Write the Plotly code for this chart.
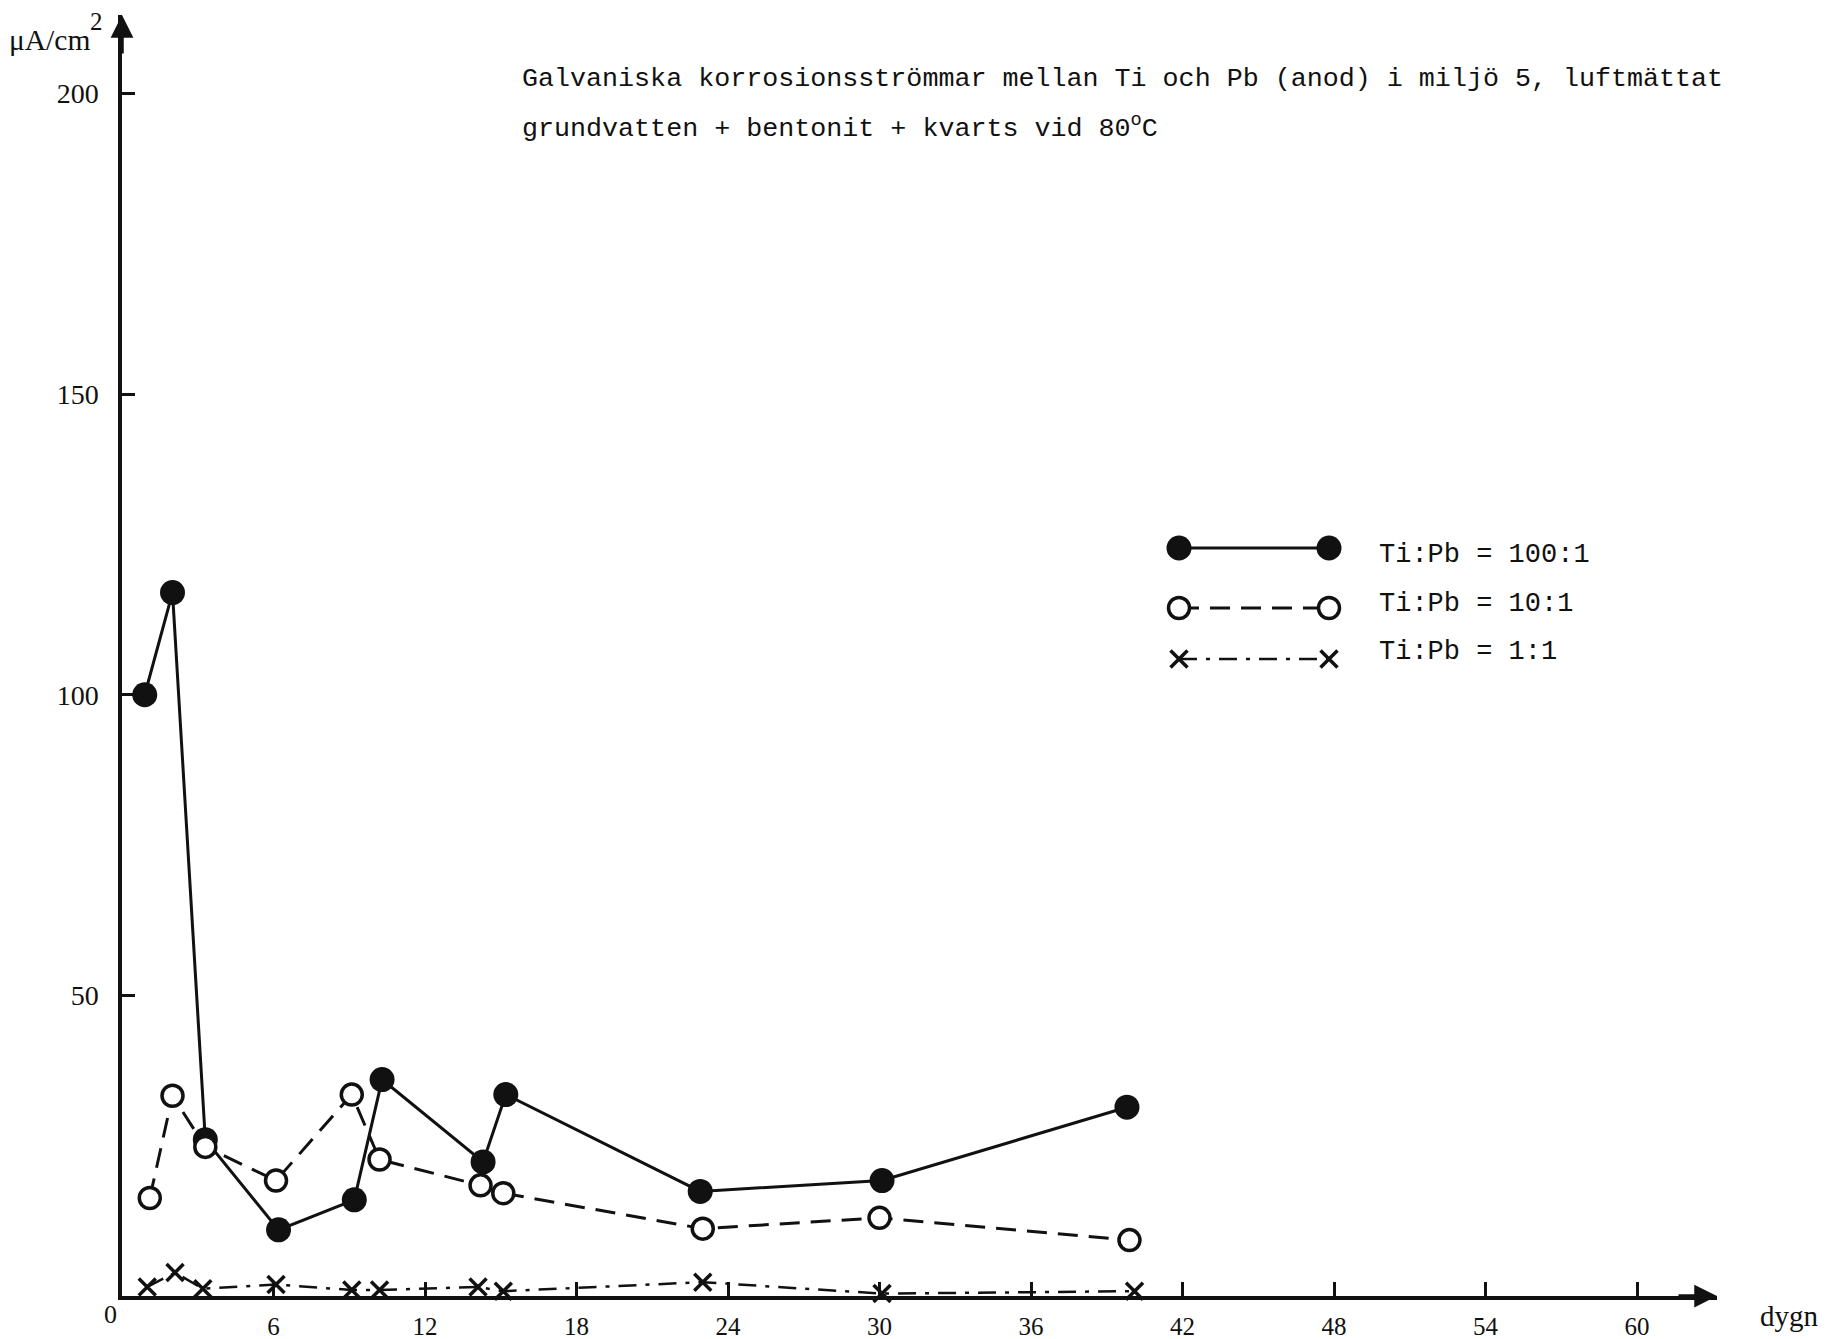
import plotly.graph_objects as go

# ---- data ----
days_100 = [0.9, 2.0, 3.3, 6.2, 9.2, 10.3, 14.3, 15.2, 22.9, 30.1, 39.8]
cur_100 = [100, 117, 26, 11, 16, 36, 22.3, 33.5, 17.4, 19.2, 31.4]

days_10 = [1.1, 2.0, 3.3, 6.1, 9.1, 10.2, 14.2, 15.1, 23.0, 30.0, 39.9]
cur_10 = [16.3, 33.3, 24.8, 19.2, 33.5, 22.7, 18.4, 17.1, 11.2, 13.0, 9.3]

days_1 = [1.0, 2.1, 3.2, 6.1, 9.1, 10.2, 14.1, 15.1, 23.0, 30.1, 40.1]
cur_1 = [1.5, 3.9, 1.2, 1.9, 1.0, 1.0, 1.5, 0.8, 2.3, 0.4, 0.8]

x_ticks = [6, 12, 18, 24, 30, 36, 42, 48, 54, 60]
y_ticks = [50, 100, 150, 200]

series_names = ["Ti:Pb = 100:1", "Ti:Pb = 10:1", "Ti:Pb = 1:1"]

title_line1 = "Galvaniska korrosionsströmmar mellan Ti och Pb (anod) i miljö 5, luftmättat"
title_line2 = "grundvatten + bentonit + kvarts vid 80<sup>o</sup>C"

# ---- layout constants ----
W, H = 1827, 1339
L, R, T, B = 122, 110, 15, 43
PW, PH = W - L - R, H - T - B
X_MAX = PW / 25.25
Y_MAX = PH / 6.0125
INK = "#111111"
MONO = "Liberation Mono, DejaVu Sans Mono, monospace"
SERIF = "Liberation Serif, DejaVu Serif, serif"


def px(xp):
    return (xp - L) / PW


def py(yp):
    return (H - B - yp) / PH


style_100 = dict(line=dict(color=INK, width=3),
                 marker=dict(symbol="circle", size=25, color=INK))
style_10 = dict(line=dict(color=INK, width=3, dash="20px,11px"),
                marker=dict(symbol="circle", size=21, color="white",
                            line=dict(width=3.5, color=INK)))
style_1 = dict(line=dict(color=INK, width=2.5, dash="18px,9px,4px,9px"),
               marker=dict(symbol="x-thin", size=17, color=INK,
                           line=dict(width=3.5, color=INK)))

fig = go.Figure()

fig.add_trace(go.Scatter(x=days_100, y=cur_100, mode="lines+markers", name=series_names[0],
                         cliponaxis=False, showlegend=False, **style_100))
fig.add_trace(go.Scatter(x=days_10, y=cur_10, mode="lines+markers", name=series_names[1],
                         cliponaxis=False, showlegend=False, **style_10))
fig.add_trace(go.Scatter(x=days_1, y=cur_1, mode="lines+markers", name=series_names[2],
                         cliponaxis=False, showlegend=False, **style_1))

# ---- legend glyphs drawn in a pixel-space overlay axis ----
leg_x = [1179, 1329]
leg_rows = [548, 608, 659]
for yrow, st in zip(leg_rows, [style_100, style_10, style_1]):
    fig.add_trace(go.Scatter(x=leg_x, y=[yrow, yrow], xaxis="x2", yaxis="y2",
                             mode="lines+markers", showlegend=False, cliponaxis=False,
                             hoverinfo="skip", **st))

ann = []
for name, yrow in zip(series_names, [555, 604, 652]):
    ann.append(dict(x=px(1377), y=py(yrow), xref="paper", yref="paper", text=name,
                    showarrow=False, xanchor="left", yanchor="middle",
                    font=dict(family=MONO, size=27, color=INK)))

# title
ann.append(dict(x=px(520), y=py(79), xref="paper", yref="paper", text=title_line1,
                showarrow=False, xanchor="left", yanchor="middle",
                font=dict(family=MONO, size=26.7, color=INK)))
ann.append(dict(x=px(520), y=py(127), xref="paper", yref="paper", text=title_line2,
                showarrow=False, xanchor="left", yanchor="middle",
                font=dict(family=MONO, size=26.7, color=INK)))

# axis label (with a large superscript 2), origin label, unit
ann.append(dict(x=px(7), y=py(40), xref="paper", yref="paper", text="μA/cm",
                showarrow=False, xanchor="left", yanchor="middle",
                font=dict(family=SERIF, size=29.5, color=INK)))
ann.append(dict(x=px(96), y=py(21), xref="paper", yref="paper", text="2",
                showarrow=False, xanchor="center", yanchor="middle",
                font=dict(family=SERIF, size=25, color=INK)))
ann.append(dict(x=px(110), y=py(1314), xref="paper", yref="paper", text="0",
                showarrow=False, xanchor="center", yanchor="middle",
                font=dict(family=SERIF, size=26, color=INK)))
ann.append(dict(x=px(1789), y=py(1316), xref="paper", yref="paper", text="dygn",
                showarrow=False, xanchor="center", yanchor="middle",
                font=dict(family=SERIF, size=29, color=INK)))

# axis arrows
ann.append(dict(x=L, y=T, ax=L, ay=T + 40, xref="x2", yref="y2", axref="x2", ayref="y2",
                text="", showarrow=True, arrowhead=2, arrowsize=1.3, arrowwidth=3.5,
                arrowcolor=INK, standoff=0))
ann.append(dict(x=W - R, y=H - B, ax=W - R - 40, ay=H - B, xref="x2", yref="y2",
                axref="x2", ayref="y2", text="", showarrow=True, arrowhead=2,
                arrowsize=1.3, arrowwidth=3.5, arrowcolor=INK, standoff=0))

fig.update_layout(
    width=W, height=H,
    margin=dict(l=L, r=R, t=T, b=B, pad=0, autoexpand=False),
    paper_bgcolor="white", plot_bgcolor="white",
    showlegend=False,
    annotations=ann,
    xaxis=dict(range=[0, X_MAX], showgrid=False, zeroline=False, automargin=False,
               showline=True, linecolor=INK, linewidth=3.5,
               ticks="inside", ticklen=14, tickwidth=3, tickcolor=INK,
               tickvals=x_ticks, ticktext=[str(v) for v in x_ticks],
               ticklabelstandoff=5,
               tickfont=dict(family=SERIF, size=25, color=INK)),
    yaxis=dict(range=[0, Y_MAX], showgrid=False, zeroline=False, automargin=False,
               showline=True, linecolor=INK, linewidth=3.5,
               ticks="inside", ticklen=13, tickwidth=3, tickcolor=INK,
               tickvals=y_ticks, ticktext=[str(v) for v in y_ticks],
               ticklabelstandoff=14,
               tickfont=dict(family=SERIF, size=28, color=INK)),
    xaxis2=dict(range=[L, W - R], overlaying="x", visible=False, fixedrange=True),
    yaxis2=dict(range=[H - B, T], overlaying="y", visible=False, fixedrange=True),
)

fig.write_html("out.html")
